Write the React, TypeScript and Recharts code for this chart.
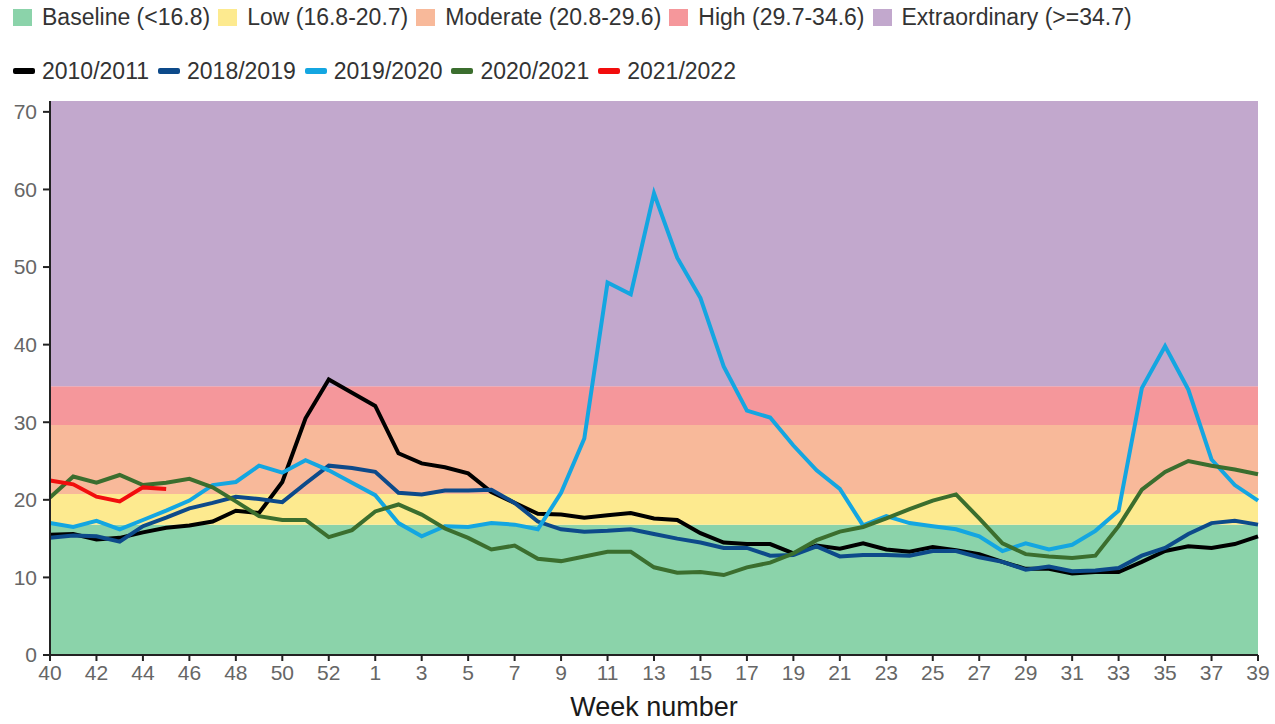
import { LineChart, Line, XAxis, YAxis, ReferenceArea, Label } from "recharts";

const weeks = [
  40, 41, 42, 43, 44, 45, 46, 47, 48, 49, 50, 51, 52, 53,
  1, 2, 3, 4, 5, 6, 7, 8, 9, 10, 11, 12, 13, 14, 15, 16, 17, 18, 19, 20,
  21, 22, 23, 24, 25, 26, 27, 28, 29, 30, 31, 32, 33, 34, 35, 36, 37, 38, 39,
];

const s2010 = [
  15.5, 15.6, 14.9, 15.1, 15.8, 16.4, 16.7, 17.2, 18.6, 18.3, 22.3, 30.5, 35.5, 33.8,
  32.1, 26.0, 24.7, 24.2, 23.4, 21.0, 19.6, 18.2, 18.1, 17.7, 18.0, 18.3, 17.6, 17.4,
  15.7, 14.5, 14.3, 14.3, 13.1, 14.1, 13.7, 14.4, 13.6, 13.3, 13.9, 13.5, 13.0, 12.0,
  11.1, 11.1, 10.5, 10.7, 10.7, 12.0, 13.4, 14.0, 13.8, 14.3, 15.3,
];

const s2018 = [
  15.1, 15.4, 15.3, 14.6, 16.6, 17.7, 18.9, 19.6, 20.4, 20.1, 19.7, 22.1, 24.4, 24.1,
  23.6, 20.9, 20.7, 21.2, 21.2, 21.3, 19.6, 17.2, 16.2, 15.9, 16.0, 16.2, 15.6, 15.0,
  14.5, 13.8, 13.8, 12.8, 12.9, 14.0, 12.7, 12.9, 12.9, 12.8, 13.4, 13.4, 12.6, 12.0,
  11.0, 11.4, 10.8, 10.9, 11.2, 12.8, 13.8, 15.6, 17.0, 17.3, 16.8,
];

const s2019 = [
  17.0, 16.5, 17.3, 16.2, 17.4, 18.6, 19.9, 21.9, 22.3, 24.4, 23.5, 25.1, 23.8, 22.2,
  20.6, 17.0, 15.3, 16.6, 16.5, 17.0, 16.8, 16.2, 20.9, 27.9, 48.0, 46.5, 59.5, 51.2,
  46.0, 37.2, 31.5, 30.6, 27.0, 23.8, 21.4, 16.7, 17.9, 17.0, 16.6, 16.2, 15.3, 13.4,
  14.4, 13.6, 14.2, 16.0, 18.6, 34.4, 39.8, 34.2, 25.2, 21.9, 19.9,
];

const s2020 = [
  20.3, 23.0, 22.2, 23.2, 21.9, 22.2, 22.7, 21.6, 19.8, 17.9, 17.4, 17.4, 15.2, 16.1,
  18.5, 19.4, 18.1, 16.3, 15.1, 13.6, 14.1, 12.4, 12.1, 12.7, 13.3, 13.3, 11.3, 10.6,
  10.7, 10.3, 11.3, 11.9, 13.1, 14.8, 15.9, 16.5, 17.6, 18.8, 19.9, 20.7, 17.6, 14.4,
  13.0, 12.7, 12.5, 12.8, 16.6, 21.3, 23.6, 25.0, 24.4, 23.9, 23.3,
];

const s2021 = [22.5, 22.0, 20.4, 19.8, 21.6, 21.4];

const seasonKeys = ["s2010", "s2018", "s2019", "s2020", "s2021"];
const seasonNames = ["2010/2011", "2018/2019", "2019/2020", "2020/2021", "2021/2022"];
const seasonColors = ["#000000", "#0d4a8a", "#14a6e1", "#3b6e2e", "#f20d0d"];

const bandNames = [
  "Baseline (<16.8)",
  "Low (16.8-20.7)",
  "Moderate (20.8-29.6)",
  "High (29.7-34.6)",
  "Extraordinary (>=34.7)",
];
const bandFrom = [0, 16.8, 20.75, 29.65, 34.65];
const bandTo = [16.8, 20.75, 29.65, 34.65, 71.4];
const bandColors = ["#8bd3aa", "#fdea8f", "#f8b99a", "#f5979b", "#c2a8cd"];

const yTicks = [0, 10, 20, 30, 40, 50, 60, 70];

const series = [s2010, s2018, s2019, s2020, s2021];
const data = weeks.map((w, i) => {
  const row: Record<string, number | string | undefined> = { week: String(w) };
  seasonKeys.forEach((k, j) => {
    row[k] = series[j][i];
  });
  return row;
});

const font = "'Liberation Sans', Arial, sans-serif";

const App = () => {
  return (
    <div style={{ position: "fixed", left: 0, top: 0, width: 1275, height: 724, fontFamily: font, background: "#fff", overflow: "hidden" }}>
      {/* band legend */}
      <div style={{ position: "absolute", left: 13, top: 4, height: 26, display: "flex", alignItems: "center", fontSize: 23, color: "#333", whiteSpace: "nowrap" }}>
        {bandNames.map((n, i) => (
          <div key={n} style={{ display: "flex", alignItems: "center", marginRight: 8 }}>
            <span style={{ width: 19, height: 17, background: bandColors[i], display: "inline-block", marginRight: 10 }} />
            <span>{n}</span>
          </div>
        ))}
      </div>
      {/* season legend */}
      <div style={{ position: "absolute", left: 13, top: 58, height: 26, display: "flex", alignItems: "center", fontSize: 23, color: "#333", whiteSpace: "nowrap" }}>
        {seasonNames.map((n, i) => (
          <div key={n} style={{ display: "flex", alignItems: "center", marginRight: 9 }}>
            <span style={{ width: 22, height: 6, borderRadius: 2, background: seasonColors[i], display: "inline-block", marginRight: 7 }} />
            <span>{n}</span>
          </div>
        ))}
      </div>
      <div style={{ position: "absolute", left: 0, top: 0 }}>
        <LineChart width={1275} height={724} data={data} margin={{ top: 101, right: 17, left: 0, bottom: 0 }}>
          {bandNames.map((n, i) => (
            <ReferenceArea key={n} y1={bandFrom[i]} y2={bandTo[i]} fill={bandColors[i]} fillOpacity={1} stroke="none" ifOverflow="hidden" />
          ))}
          <XAxis
            dataKey="week"
            interval={1}
            height={69}
            tickSize={6}
            tickMargin={4}
            tick={{ fill: "#666", fontSize: 21, fontFamily: font }}
            tickLine={{ stroke: "#222", strokeWidth: 2 }}
            axisLine={{ stroke: "#222", strokeWidth: 2 }}
          >
            <Label value="Week number" position="insideBottom" offset={8} style={{ fontSize: 27, fill: "#1a1a1a", fontFamily: font }} />
          </XAxis>
          <YAxis
            width={50}
            domain={[0, 71.4]}
            ticks={yTicks}
            tickSize={7}
            tickMargin={6}
            tick={{ fill: "#666", fontSize: 21, fontFamily: font }}
            tickLine={{ stroke: "#222", strokeWidth: 2 }}
            axisLine={{ stroke: "#222", strokeWidth: 2 }}
          />
          {seasonKeys.map((k, i) => (
            <Line
              key={k}
              type="linear"
              dataKey={k}
              stroke={seasonColors[i]}
              strokeWidth={4}
              dot={false}
              activeDot={false}
              isAnimationActive={false}
            />
          ))}
        </LineChart>
      </div>
    </div>
  );
};

export default App;
